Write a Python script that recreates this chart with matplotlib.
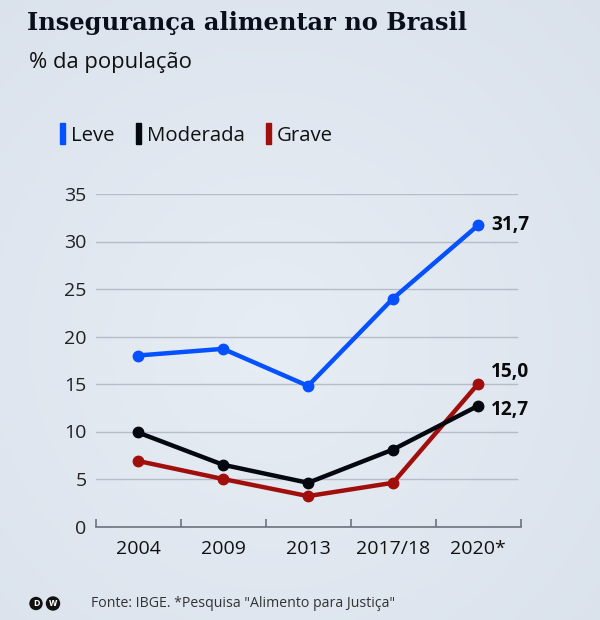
import numpy as np
import matplotlib.pyplot as plt
from matplotlib.patches import Circle, Rectangle

# data
years = ["2004", "2009", "2013", "2017/18", "2020*"]
leve = [18.0, 18.7, 14.8, 24.0, 31.7]
moderada = [9.9, 6.5, 4.6, 8.1, 12.7]
grave = [6.9, 5.0, 3.2, 4.6, 15.0]
y_ticks = [0, 5, 10, 15, 20, 25, 30, 35]

BLUE = "#0550ff"
BLACK = "#05080f"
RED = "#a00f0b"
BG = "#dfe6f0"

plt.rcParams["font.family"] = ["Open Sans", "DejaVu Sans"]

W, H = 600, 620
fig = plt.figure(figsize=(W / 100, H / 100), dpi=100)
fig.patch.set_facecolor(BG)

# soft background gradient
bg = fig.add_axes([0, 0, 1, 1], zorder=-1)
yy, xx = np.mgrid[0:1:200j, 0:1:200j]
r = np.sqrt((xx - 0.45) ** 2 + (yy - 0.55) ** 2)
c_in = np.array([0.905, 0.929, 0.957])
c_out = np.array([0.855, 0.886, 0.925])
t = np.clip(r / 0.75, 0, 1)[..., None]
bg.imshow(c_in * (1 - t) + c_out * t, extent=[0, 1, 0, 1], aspect="auto")
bg.axis("off")

# chart axes (pixel box: x 95.5..520.5, y 194..526.5)
ax = fig.add_axes([95.5 / W, 1 - 526.5 / H, 425 / W, 332.5 / H])
ax.set_facecolor("none")
x = list(range(len(years)))
for vals, c in [(leve, BLUE), (grave, RED), (moderada, BLACK)]:
    ax.plot(x, vals, color=c, lw=3.2, marker="o", ms=7.5, clip_on=False,
            solid_capstyle="round", zorder=3)

ax.set_xlim(-0.5, len(years) - 0.5)
ax.set_ylim(0, 35)
ax.set_yticks(y_ticks)
ax.set_yticklabels([str(t) for t in y_ticks])
ax.set_xticks(x)
ax.set_xticklabels(years)
ax.set_xticks([i - 0.5 for i in range(len(years) + 1)], minor=True)
ax.tick_params(axis="x", which="major", length=0, pad=10, labelsize=14, colors="#111111")
ax.tick_params(axis="x", which="minor", length=6, width=1.2, direction="in", color="#6b7380")
ax.tick_params(axis="y", length=0, pad=6.4, labelsize=14, colors="#222222")
for t in y_ticks[1:]:
    ax.axhline(t, xmin=0, xmax=421.5 / 425, color="#b5bdc9", lw=1, zorder=1)
for s in ["top", "right", "left"]:
    ax.spines[s].set_visible(False)
ax.spines["bottom"].set_color("#6b7380")
ax.spines["bottom"].set_linewidth(1.2)

# end labels
for v, dy in [(leve[-1], 0), (grave[-1], 8.6), (moderada[-1], -2.9)]:
    ax.annotate(f"{v:.1f}".replace(".", ","), xy=(x[-1], v), xytext=(9.6, dy),
                textcoords="offset points", ha="left", va="center",
                fontsize=13.8, fontweight="bold", color="#0a0a0a")

# overlay in pixel coords
ov = fig.add_axes([0, 0, 1, 1], zorder=5)
ov.set_xlim(0, W)
ov.set_ylim(H, 0)
ov.axis("off")
ov.patch.set_alpha(0)

ov.text(27, 30, "Insegurança alimentar no Brasil", family="DejaVu Serif",
        fontweight="bold", fontsize=17.4, color="#0b0f1c", va="baseline")
ov.text(29, 68, "% da população", fontsize=15.8, color="#111111", va="baseline")

for lx, label, c in [(60, "Leve", BLUE), (136, "Moderada", BLACK), (266, "Grave", RED)]:
    ov.add_patch(Rectangle((lx, 123), 5, 21, color=c))
    ov.text(lx + 11, 141, label, fontsize=14.7, color="#111111", va="baseline")

# DW logo
ov.add_patch(Circle((36, 603.5), 6, color="#111111"))
ov.add_patch(Circle((53, 603.5), 6.5, color="#111111"))
ov.text(36, 604, "D", color="white", fontsize=6.5, fontweight="bold", ha="center", va="center")
ov.text(53, 604, "w", color="white", fontsize=7, fontweight="bold", ha="center", va="center")
ov.text(91, 607, "Fonte: IBGE. *Pesquisa \"Alimento para Justiça\"", fontsize=10.2,
        color="#333333", va="baseline")

fig.savefig("out.png", dpi=100, facecolor=BG)
